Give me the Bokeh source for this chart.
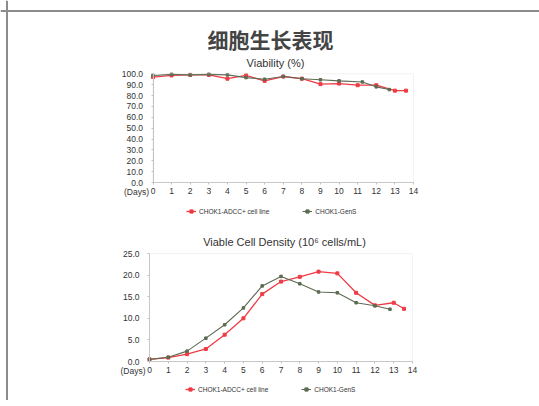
from bokeh.plotting import figure
from bokeh.models import (FixedTicker, PrintfTickFormatter, Legend, LegendItem, Label,
                          Range1d, LinearAxis, BoxAnnotation, Span)
from bokeh.embed import file_html
from bokeh.resources import INLINE

# ---------------- data ----------------
main_title = "细胞生长表现"
viab_title = "Viability (%)"
dens_title = "Viable Cell Density (10\u2076 cells/mL)"
series_names = ["CHOK1-ADCC+ cell line", "CHOK1-GenS"]
days_text = "(Days)"

day_ticks = list(range(0, 15))
viab_ticks = [0, 10, 20, 30, 40, 50, 60, 70, 80, 90, 100]
dens_ticks = [0, 5, 10, 15, 20, 25]

viab_red_days = [0, 1, 2, 3, 4, 5, 6, 7, 8, 9, 10, 11, 12, 13, 13.6]
viab_red = [97, 98.5, 99, 99, 95.5, 98.5, 93.5, 97.5, 95.5, 90.5, 91, 89.5, 89.5, 84.5, 84.5]
viab_green_days = [0, 1, 2, 3, 4, 5, 6, 7, 8, 9, 10, 11.25, 12, 12.7]
viab_green = [98.5, 99.5, 99, 99.5, 99, 96.5, 95, 97.5, 95.5, 94.5, 93.5, 92.5, 88, 85.5]

dens_red_days = [0, 1, 2, 3, 4, 5, 6, 7, 8, 9, 10, 11, 12, 13, 13.55]
dens_red = [0.5, 0.9, 1.7, 2.9, 6.2, 10.0, 15.6, 18.5, 19.6, 20.8, 20.4, 15.9, 13.0, 13.6, 12.2]
dens_green_days = [0, 1, 2, 3, 4, 5, 6, 7, 8, 9, 10, 11, 12, 12.8]
dens_green = [0.5, 1.0, 2.4, 5.4, 8.5, 12.4, 17.5, 19.7, 18.0, 16.1, 15.9, 13.6, 12.9, 12.1]

# ---------------- style / layout ----------------
RED = "#ee3b45"
GREEN = "#5d6b52"
TXT = "#333333"
FONT = "Liberation Sans"
W, H = 539, 400


def lin_range(v0, v1, p0, p1, total):
    """range whose value v0 sits at pixel p0 and v1 at pixel p1 of a span of `total` px"""
    s = (v1 - v0) / (p1 - p0)
    start = v0 - p0 * s
    return Range1d(start, start + total * s)


# pixel targets inside the figure (x from left, y from bottom)
vx = lin_range(day_ticks[0], day_ticks[-1], 152.5, 413, W)
vy = lin_range(viab_ticks[0], viab_ticks[-1], H - 182, H - 73.3, H)
dx = lin_range(day_ticks[0], day_ticks[-1], 149, 412, W)
dy = lin_range(dens_ticks[0], dens_ticks[-1], H - 361, H - 253, H)

p = figure(width=W, height=H, output_backend="svg", toolbar_location=None,
           x_range=vx, y_range=vy, x_axis_location=None, y_axis_location=None,
           min_border=0, min_border_left=0, min_border_right=0,
           min_border_top=0, min_border_bottom=0, title=None)
p.extra_x_ranges = {"dx": dx}
p.extra_y_ranges = {"dy": dy}
p.grid.visible = False
p.outline_line_color = None
p.background_fill_color = "white"
p.border_fill_color = "white"


def styled_axis(ax):
    ax.axis_line_color = "#c0c0c0"
    ax.major_tick_line_color = "#c0c0c0"
    ax.major_tick_in = 0
    ax.major_tick_out = 2
    ax.minor_tick_line_color = None
    ax.major_label_text_font = FONT
    ax.major_label_text_font_size = "8.5px"
    ax.major_label_text_color = TXT
    return ax


def add_panel(xr, yr, yticks, xs_r, ys_r, xs_g, ys_g, leg_loc):
    kw = {}
    if xr != "default":
        kw = dict(x_range_name=xr, y_range_name=yr)
    box = BoxAnnotation(left=day_ticks[0], right=day_ticks[-1], bottom=yticks[0], top=yticks[-1],
                        fill_alpha=0, line_color="#d8d8d8", line_width=1, **kw)
    p.add_layout(box)
    xa = styled_axis(LinearAxis(ticker=FixedTicker(ticks=day_ticks), fixed_location=yticks[0],
                                bounds=(day_ticks[0], day_ticks[-1]), major_label_standoff=3, **kw))
    ya = styled_axis(LinearAxis(ticker=FixedTicker(ticks=yticks), fixed_location=day_ticks[0],
                                bounds=(yticks[0], yticks[-1]), major_label_standoff=8,
                                formatter=PrintfTickFormatter(format="%.1f"), **kw))
    p.add_layout(xa, "below")
    p.add_layout(ya, "left")

    r1 = p.line(xs_r, ys_r, line_color=RED, line_width=1.3, **kw)
    m1 = p.scatter(xs_r, ys_r, marker="square", size=3, color=RED, **kw)
    r2 = p.line(xs_g, ys_g, line_color=GREEN, line_width=1.1, **kw)
    m2 = p.scatter(xs_g, ys_g, marker="square", size=2.5, color=GREEN, **kw)

    p.add_layout(Label(x=day_ticks[0], y=yticks[0], text=days_text, text_align="right",
                       text_baseline="middle", x_offset=-4, y_offset=-9.5,
                       text_font=FONT, text_font_size="8.5px", text_color=TXT, **kw))

    leg = Legend(items=[LegendItem(label=series_names[0], renderers=[r1, m1]),
                        LegendItem(label=series_names[1], renderers=[r2, m2])],
                 location=leg_loc, orientation="horizontal",
                 label_text_font=FONT, label_text_font_size="6.5px", label_text_color=TXT,
                 glyph_width=10, glyph_height=8, label_height=8, label_standoff=3,
                 spacing=33, padding=0, margin=0, border_line_color=None,
                 background_fill_alpha=0)
    p.add_layout(leg, "center")


add_panel("default", "default", viab_ticks, viab_red_days, viab_red,
          viab_green_days, viab_green, leg_loc=(186, H - 215))
add_panel("dx", "dy", dens_ticks, dens_red_days, dens_red,
          dens_green_days, dens_green, leg_loc=(185, H - 393))

# titles (screen units, measured from the frame's bottom-left)
p.add_layout(Label(x=270, y=H - 38, x_units="screen", y_units="screen", text=main_title,
                   text_align="center", text_baseline="middle",
                   text_font="Noto Sans CJK SC", text_font_size="21px",
                   text_font_style="bold", text_color="#444444"))
p.add_layout(Label(x=275, y=H - 62, x_units="screen", y_units="screen", text=viab_title,
                   text_align="center", text_baseline="middle", text_font=FONT,
                   text_font_size="11px", text_color=TXT))
p.add_layout(Label(x=284, y=H - 241, x_units="screen", y_units="screen", text=dens_title,
                   text_align="center", text_baseline="middle", text_font=FONT,
                   text_font_size="11px", text_color=TXT))

# outer frame lines (left and top edges)
sx = (vx.end - vx.start) / W
sy = (vy.end - vy.start) / H
p.add_layout(Span(location=vx.start + 6.5 * sx, dimension="height",
                  line_color="#8c8c8c", line_width=2))
p.add_layout(Span(location=vy.end - 10.5 * sy, dimension="width",
                  line_color="#8c8c8c", line_width=2))

open("out.html", "w").write(file_html(p, INLINE))
